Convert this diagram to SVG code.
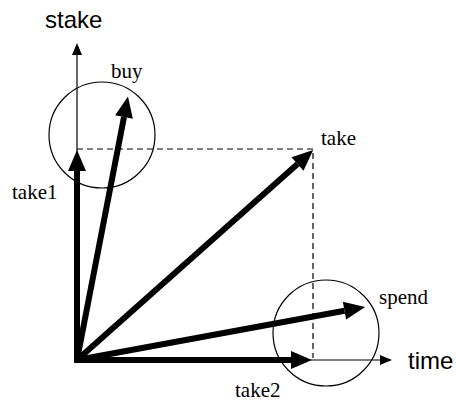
<svg xmlns="http://www.w3.org/2000/svg" width="456" height="401" viewBox="0 0 456 401">
<style>
.thick{stroke:#000;stroke-width:6;fill:none;marker-end:url(#big)}
.thin{stroke:#000;stroke-width:1.2;fill:none}
.dash{stroke:#000;stroke-width:1.2;fill:none;stroke-dasharray:6 4}
.ring{stroke:#000;stroke-width:1.2;fill:none}
.ser{font-family:"Liberation Serif","Times New Roman",serif;font-size:21px;fill:#000}
.sans{font-family:"Liberation Sans",Arial,sans-serif;font-size:24px;fill:#000}
</style>
<defs>
<marker id="big" markerUnits="userSpaceOnUse" markerWidth="22" markerHeight="20" refX="0" refY="9" viewBox="0 0 22 18" orient="auto" overflow="visible">
<path d="M0,0 L21,9 L0,18 z" fill="#000"/>
</marker>
<marker id="small" markerUnits="userSpaceOnUse" markerWidth="12" markerHeight="10" refX="0" refY="5" viewBox="0 0 12 10" orient="auto" overflow="visible">
<path d="M0,0 L12,5 L0,10 z" fill="#000"/>
</marker>
</defs>
<g id="connectors">
<path id="stake-axis" class="thin" d="M77,360 L77,55" marker-end="url(#small)"/>
<path id="time-axis" class="thin" d="M77,360 L380,360" marker-end="url(#small)"/>
<path class="dash" d="M77,149 L313,149 L313,358"/>
<path id="take1-arrow" class="thick" d="M77,363 L77,171"/>
<path id="take2-arrow" class="thick" d="M74,360 L291,360"/>
<path id="buy-arrow" class="thick" d="M77,360 L124,117"/>
<path id="take-arrow" class="thick" d="M77,360 L297.5,164"/>
<path id="spend-arrow" class="thick" d="M77,360 L344.5,310.7"/>
</g>
<g id="circle-buy"><circle class="ring" cx="102" cy="135" r="53"/></g>
<g id="circle-spend"><circle class="ring" cx="326" cy="333" r="53"/></g>
<g id="label-stake"><text class="sans" x="45" y="28">stake</text></g>
<g id="label-time"><text class="sans" x="408" y="369">time</text></g>
<g id="label-buy"><text class="ser" x="111" y="78">buy</text></g>
<g id="label-take"><text class="ser" x="321" y="145">take</text></g>
<g id="label-take1"><text class="ser" x="12" y="199">take1</text></g>
<g id="label-spend"><text class="ser" x="379" y="304">spend</text></g>
<g id="label-take2"><text class="ser" x="235" y="397">take2</text></g>
</svg>
